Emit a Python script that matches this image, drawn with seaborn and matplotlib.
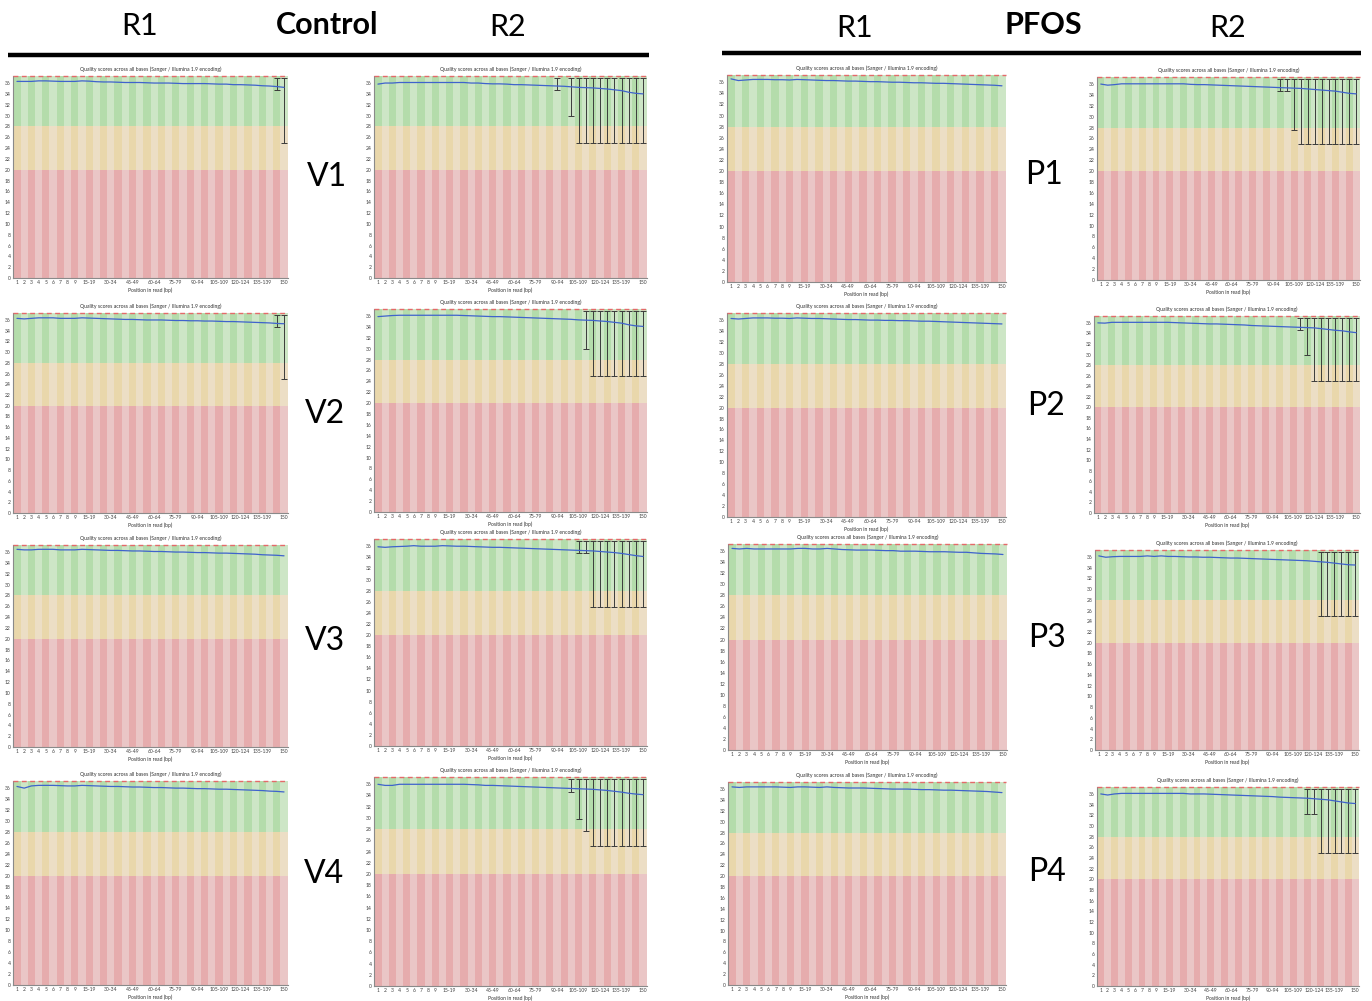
import numpy as np
import pandas as pd
import matplotlib
matplotlib.use("Agg")
import matplotlib.pyplot as plt
from matplotlib.lines import Line2D
import seaborn as sns

sns.set_theme(style="white")
plt.rcParams['font.family'] = ['Lato', 'DejaVu Sans']

# ---------------------------------------------------------------- data
bin_labels = ["1", "2", "3", "4", "5", "6", "7", "8", "9",
              "10-14", "15-19", "20-24", "25-29", "30-34", "35-39", "40-44",
              "45-49", "50-54", "55-59", "60-64", "65-69", "70-74", "75-79",
              "80-84", "85-89", "90-94", "95-99", "100-104", "105-109",
              "110-114", "115-119", "120-124", "125-129", "130-134",
              "135-139", "140-144", "145-149", "150"]
shown_labels = ["1", "2", "3", "4", "5", "6", "7", "8", "9", "15-19", "30-34",
                "45-49", "60-64", "75-79", "90-94", "105-109", "120-124",
                "135-139", "150"]
y_ticks = [0, 2, 4, 6, 8, 10, 12, 14, 16, 18, 20, 22, 24, 26, 28, 30, 32, 34, 36]
zone_edges = [0, 20, 28, 37.3]
upper_p90 = 37.0

# mean quality per position
v1_r1_mean = [36.3, 36.3, 36.3, 36.4, 36.4, 36.35, 36.3, 36.3, 36.3, 36.4, 36.35, 36.25, 36.2, 36.2, 36.15, 36.1, 36.1, 36.1, 36.05, 36.0, 36.0, 36.0, 35.95, 35.9, 35.9, 35.9, 35.9, 35.85, 35.8, 35.8, 35.7, 35.7, 35.65, 35.6, 35.5, 35.45, 35.35, 35.2]
v2_r1_mean = [36.3, 36.2, 36.3, 36.4, 36.4, 36.4, 36.3, 36.3, 36.3, 36.4, 36.35, 36.3, 36.25, 36.2, 36.15, 36.1, 36.1, 36.05, 36.0, 36.0, 36.0, 35.95, 35.9, 35.9, 35.85, 35.85, 35.8, 35.8, 35.75, 35.7, 35.7, 35.65, 35.6, 35.55, 35.5, 35.45, 35.35, 35.3]
v3_r1_mean = [36.5, 36.4, 36.4, 36.5, 36.5, 36.5, 36.4, 36.4, 36.4, 36.5, 36.45, 36.4, 36.35, 36.3, 36.3, 36.25, 36.2, 36.2, 36.15, 36.1, 36.1, 36.05, 36.0, 36.0, 35.95, 35.9, 35.9, 35.85, 35.8, 35.8, 35.75, 35.7, 35.65, 35.6, 35.5, 35.45, 35.4, 35.3]
v4_r1_mean = [36.3, 36.0, 36.4, 36.5, 36.5, 36.5, 36.45, 36.4, 36.4, 36.5, 36.45, 36.4, 36.35, 36.3, 36.3, 36.25, 36.2, 36.2, 36.15, 36.1, 36.1, 36.05, 36.0, 36.0, 35.95, 35.9, 35.9, 35.85, 35.8, 35.8, 35.75, 35.7, 35.65, 35.6, 35.55, 35.45, 35.4, 35.3]
v1_r2_mean = [35.8, 36.0, 36.0, 36.1, 36.1, 36.1, 36.1, 36.1, 36.1, 36.1, 36.1, 36.1, 36.1, 36.0, 36.0, 35.9, 35.85, 35.85, 35.8, 35.7, 35.7, 35.65, 35.6, 35.55, 35.5, 35.45, 35.4, 35.3, 35.2, 35.15, 35.1, 35.0, 34.9, 34.75, 34.6, 34.3, 34.1, 34.0]
v2_r2_mean = [35.9, 36.0, 36.1, 36.15, 36.15, 36.15, 36.15, 36.15, 36.15, 36.15, 36.15, 36.15, 36.1, 36.05, 36.0, 35.95, 35.9, 35.9, 35.85, 35.8, 35.75, 35.7, 35.65, 35.6, 35.55, 35.5, 35.45, 35.4, 35.3, 35.25, 35.2, 35.1, 35.0, 34.85, 34.7, 34.4, 34.2, 34.1]
v3_r2_mean = [35.9, 35.8, 35.9, 35.95, 36.0, 36.1, 36.0, 36.0, 36.0, 36.1, 36.05, 36.0, 36.0, 35.95, 35.9, 35.85, 35.8, 35.8, 35.75, 35.7, 35.65, 35.6, 35.55, 35.5, 35.45, 35.4, 35.35, 35.3, 35.25, 35.2, 35.15, 35.05, 34.95, 34.85, 34.7, 34.5, 34.3, 34.15]
v4_r2_mean = [36.0, 35.8, 35.8, 36.0, 36.0, 36.0, 36.0, 36.0, 36.0, 36.0, 36.0, 36.0, 36.0, 35.95, 35.9, 35.8, 35.8, 35.75, 35.7, 35.65, 35.6, 35.55, 35.5, 35.45, 35.4, 35.35, 35.3, 35.25, 35.2, 35.15, 35.1, 35.0, 34.9, 34.75, 34.6, 34.4, 34.25, 34.15]
p1_r1_mean = [36.6, 36.3, 36.4, 36.5, 36.5, 36.5, 36.45, 36.45, 36.4, 36.5, 36.45, 36.4, 36.35, 36.3, 36.3, 36.25, 36.2, 36.2, 36.15, 36.1, 36.1, 36.05, 36.0, 36.0, 35.95, 35.9, 35.9, 35.85, 35.8, 35.8, 35.75, 35.7, 35.65, 35.6, 35.55, 35.5, 35.45, 35.35]
p2_r1_mean = [36.3, 36.2, 36.3, 36.4, 36.4, 36.4, 36.35, 36.35, 36.3, 36.4, 36.35, 36.3, 36.3, 36.25, 36.2, 36.15, 36.1, 36.1, 36.05, 36.0, 36.0, 35.95, 35.95, 35.9, 35.9, 35.85, 35.8, 35.8, 35.75, 35.7, 35.65, 35.6, 35.55, 35.5, 35.45, 35.4, 35.35, 35.3]
p3_r1_mean = [36.5, 36.4, 36.5, 36.4, 36.4, 36.4, 36.4, 36.4, 36.4, 36.5, 36.5, 36.4, 36.4, 36.5, 36.4, 36.3, 36.25, 36.2, 36.2, 36.2, 36.15, 36.1, 36.1, 36.0, 36.0, 36.0, 35.95, 35.9, 35.9, 35.9, 35.85, 35.8, 35.8, 35.7, 35.6, 35.55, 35.5, 35.4]
p4_r1_mean = [36.4, 36.3, 36.4, 36.4, 36.4, 36.4, 36.4, 36.35, 36.3, 36.4, 36.4, 36.35, 36.3, 36.4, 36.3, 36.25, 36.2, 36.2, 36.2, 36.15, 36.1, 36.05, 36.0, 36.0, 36.0, 35.95, 35.9, 35.9, 35.85, 35.8, 35.8, 35.75, 35.7, 35.65, 35.6, 35.55, 35.45, 35.35]
p1_r2_mean = [36.0, 35.8, 35.9, 36.05, 36.05, 36.05, 36.05, 36.05, 36.05, 36.05, 36.05, 36.05, 36.05, 35.95, 35.9, 35.9, 35.85, 35.8, 35.75, 35.7, 35.65, 35.6, 35.55, 35.5, 35.45, 35.4, 35.35, 35.3, 35.25, 35.2, 35.1, 35.0, 34.9, 34.8, 34.7, 34.5, 34.3, 34.2]
p2_r2_mean = [36.0, 35.95, 36.1, 36.1, 36.1, 36.1, 36.1, 36.1, 36.1, 36.1, 36.1, 36.05, 36.0, 35.95, 35.9, 35.85, 35.8, 35.8, 35.75, 35.7, 35.65, 35.6, 35.5, 35.45, 35.4, 35.35, 35.3, 35.25, 35.2, 35.15, 35.1, 35.05, 34.9, 34.75, 34.6, 34.5, 34.3, 34.15]
p3_r2_mean = [36.2, 35.95, 36.05, 36.1, 36.1, 36.1, 36.1, 36.2, 36.1, 36.2, 36.1, 36.1, 36.05, 36.0, 36.0, 35.95, 35.95, 35.9, 35.85, 35.8, 35.8, 35.75, 35.7, 35.65, 35.6, 35.55, 35.5, 35.45, 35.4, 35.35, 35.3, 35.2, 35.1, 35.0, 34.85, 34.7, 34.55, 34.5]
p4_r2_mean = [36.0, 35.8, 36.0, 36.1, 36.1, 36.1, 36.1, 36.1, 36.1, 36.1, 36.1, 36.1, 36.1, 36.0, 36.0, 36.0, 35.95, 35.9, 35.85, 35.8, 35.75, 35.7, 35.65, 35.6, 35.55, 35.5, 35.4, 35.35, 35.3, 35.25, 35.2, 35.1, 35.0, 34.9, 34.7, 34.5, 34.3, 34.2]

# 10th percentile at positions where it falls below the 90th percentile
v1_r1_p10_bins = ["145-149", "150"]
v1_r1_p10 = [34.7, 25.0]
v2_r1_p10_bins = ["145-149", "150"]
v2_r1_p10 = [34.7, 25.0]
v1_r2_p10_bins = ["90-94", "100-104", "105-109", "110-114", "115-119", "120-124", "125-129", "130-134", "135-139", "140-144", "145-149", "150"]
v1_r2_p10 = [34.7, 29.9, 25.0, 25.0, 25.0, 25.0, 25.0, 25.0, 25.0, 25.0, 25.0, 25.0]
v2_r2_p10_bins = ["110-114", "115-119", "120-124", "125-129", "130-134", "135-139", "140-144", "145-149", "150"]
v2_r2_p10 = [29.9, 25.0, 25.0, 25.0, 25.0, 25.0, 25.0, 25.0, 25.0]
v3_r2_p10_bins = ["105-109", "110-114", "115-119", "120-124", "125-129", "130-134", "135-139", "140-144", "145-149", "150"]
v3_r2_p10 = [34.7, 34.7, 25.0, 25.0, 25.0, 25.0, 25.0, 25.0, 25.0, 25.0]
v4_r2_p10_bins = ["100-104", "105-109", "110-114", "115-119", "120-124", "125-129", "130-134", "135-139", "140-144", "145-149", "150"]
v4_r2_p10 = [34.7, 29.8, 27.6, 25.0, 25.0, 25.0, 25.0, 25.0, 25.0, 25.0, 25.0]
p1_r2_p10_bins = ["95-99", "100-104", "105-109", "110-114", "115-119", "120-124", "125-129", "130-134", "135-139", "140-144", "145-149", "150"]
p1_r2_p10 = [34.7, 34.7, 27.5, 25.0, 25.0, 25.0, 25.0, 25.0, 25.0, 25.0, 25.0, 25.0]
p2_r2_p10_bins = ["110-114", "115-119", "120-124", "125-129", "130-134", "135-139", "140-144", "145-149", "150"]
p2_r2_p10 = [34.7, 29.9, 25.0, 25.0, 25.0, 25.0, 25.0, 25.0, 25.0]
p3_r2_p10_bins = ["125-129", "130-134", "135-139", "140-144", "145-149", "150"]
p3_r2_p10 = [25.0, 25.0, 25.0, 25.0, 25.0, 25.0]
p4_r2_p10_bins = ["115-119", "120-124", "125-129", "130-134", "135-139", "140-144", "145-149", "150"]
p4_r2_p10 = [32.2, 32.2, 25.0, 25.0, 25.0, 25.0, 25.0, 25.0]

panel_title = "Quality scores across all bases (Sanger / Illumina 1.9 encoding)"
x_title = "Position in read (bp)"

# ---------------------------------------------------------------- style
W, H = 1372, 1001
zone_colors = [("#e6acad", "#eac6c6"),   # poor
               ("#e9d7ab", "#ecdec5"),   # reasonable
               ("#b4dcab", "#cde6c6")]   # good
line_color = "#3f63cc"
whisker_color = "#3b3b3b"

fig = plt.figure(figsize=(W / 100, H / 100), dpi=100)
fig.patch.set_facecolor("white")


def px_axes(left, top, right, bottom):
    return fig.add_axes([left / W, 1 - bottom / H, (right - left) / W, (bottom - top) / H])


def quality_panel(box, means, p10_bins=None, p10=None):
    ax = px_axes(*box)
    pos = np.arange(len(bin_labels))
    for (lo, hi), (dark, light) in zip(zip(zone_edges[:-1], zone_edges[1:]), zone_colors):
        cols = [dark if i % 2 == 0 else light for i in pos]
        ax.bar(pos, hi - lo, bottom=lo, width=1.0, color=cols, linewidth=0, zorder=0)
    if p10_bins:
        idx = [bin_labels.index(b) for b in p10_bins]
        lows = np.array(p10)
        ax.errorbar(idx, [upper_p90] * len(idx), yerr=[upper_p90 - lows, np.zeros(len(idx))],
                    fmt="none", ecolor=whisker_color, elinewidth=0.7, capsize=2.3,
                    capthick=0.7, zorder=3)
    df = pd.DataFrame({"pos": pos, "mean": means})
    sns.lineplot(data=df, x="pos", y="mean", ax=ax, color=line_color, lw=0.9, zorder=4)
    ax.axhline(zone_edges[-1], color="#e46a6a", ls=(0, (3.5, 2.5)), lw=1.0, clip_on=False, zorder=5)
    ax.set_xlim(-0.55, len(bin_labels) - 0.45)
    ax.set_ylim(zone_edges[0], zone_edges[-1])
    ax.set_xticks([bin_labels.index(s) for s in shown_labels])
    ax.set_xticklabels(shown_labels)
    ax.set_yticks(y_ticks)
    ax.tick_params(length=0, labelsize=3.6, pad=1.6, colors="#404040")
    for side in ("top", "right"):
        ax.spines[side].set_visible(False)
    for side in ("left", "bottom"):
        ax.spines[side].set_color("#8a8a8a")
        ax.spines[side].set_linewidth(0.8)
    ax.set_title(panel_title, fontsize=3.7, pad=3.5, color="#303030")
    ax.set_xlabel(x_title, fontsize=3.6, labelpad=1.8, color="#303030")
    ax.set_ylabel("")
    return ax


# Control: R1 and R2
quality_panel((13, 76, 288, 278), v1_r1_mean, v1_r1_p10_bins, v1_r1_p10)
quality_panel((13, 313, 288, 513), v2_r1_mean, v2_r1_p10_bins, v2_r1_p10)
quality_panel((13, 545, 288, 747), v3_r1_mean)
quality_panel((13, 781, 288, 985), v4_r1_mean)
quality_panel((374, 76, 647, 278), v1_r2_mean, v1_r2_p10_bins, v1_r2_p10)
quality_panel((374, 309, 647, 512), v2_r2_mean, v2_r2_p10_bins, v2_r2_p10)
quality_panel((374, 539, 647, 746), v3_r2_mean, v3_r2_p10_bins, v3_r2_p10)
quality_panel((374, 777, 647, 986), v4_r2_mean, v4_r2_p10_bins, v4_r2_p10)

# PFOS: R1 and R2
quality_panel((727, 75, 1006, 282), p1_r1_mean)
quality_panel((727, 313, 1006, 517), p2_r1_mean)
quality_panel((728, 544, 1007, 750), p3_r1_mean)
quality_panel((728, 782, 1006, 985), p4_r1_mean)
quality_panel((1097, 77, 1360, 280), p1_r2_mean, p1_r2_p10_bins, p1_r2_p10)
quality_panel((1094, 316, 1360, 513), p2_r2_mean, p2_r2_p10_bins, p2_r2_p10)
quality_panel((1095, 550, 1359, 750), p3_r2_mean, p3_r2_p10_bins, p3_r2_p10)
quality_panel((1097, 787, 1359, 986), p4_r2_mean, p4_r2_p10_bins, p4_r2_p10)


def px_text(x, y, s, size=22, weight="normal"):
    fig.text(x / W, 1 - y / H, s, ha="center", va="center", fontsize=size,
             fontweight=weight, color="black")


def px_rule(x0, x1, y, lw=3.2):
    fig.add_artist(Line2D([x0 / W, x1 / W], [1 - y / H, 1 - y / H], transform=fig.transFigure,
                          color="black", lw=lw, solid_capstyle="butt"))


# group headers
px_text(140, 26, "R1")
px_text(327, 25, "Control", weight="bold")
px_text(508, 27, "R2")
px_text(855, 28, "R1")
px_text(1043, 25, "PFOS", weight="bold")
px_text(1228, 28, "R2")
px_rule(8, 649, 55)
px_rule(722, 1361, 53)

# sample labels
row_labels = ["V1", "V2", "V3", "V4", "P1", "P2", "P3", "P4"]
row_label_xy = [(327, 177), (325, 414), (325, 641), (324, 874),
                (1044, 175), (1046, 406), (1047, 638), (1047, 872)]
for lab, (x, y) in zip(row_labels, row_label_xy):
    px_text(x, y, lab, size=23)

fig.savefig("out.png", dpi=100, facecolor="white")
